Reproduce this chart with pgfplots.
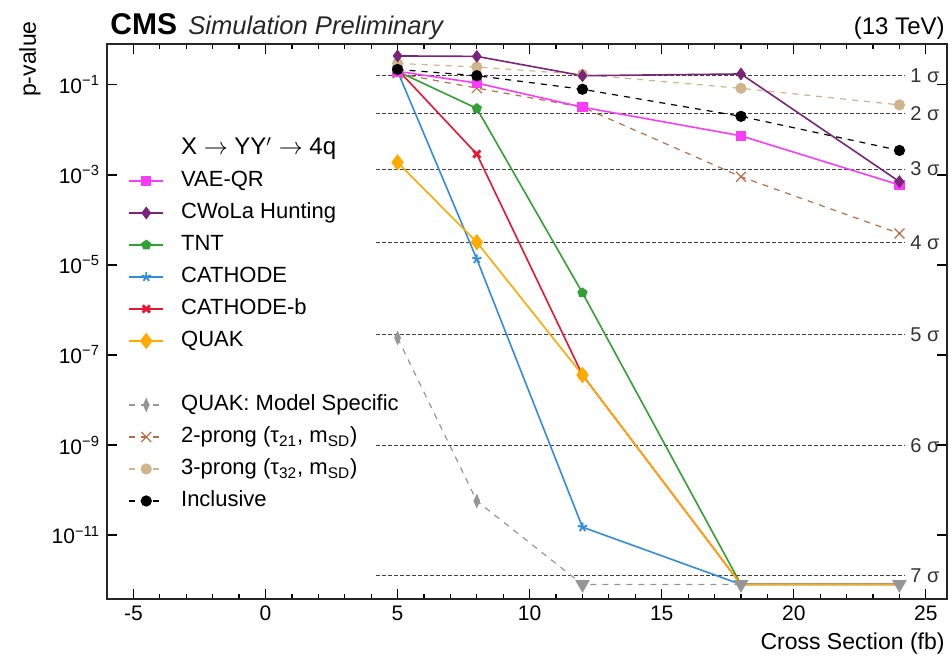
\documentclass[border=0pt]{standalone}
\usepackage{pgfplots}
\pgfplotsset{compat=1.18}
\usepackage{fontspec}
\setmainfont{Liberation Sans}
\definecolor{cmag}{RGB}{250,60,250}
\definecolor{cpur}{RGB}{122,36,122}
\definecolor{cgrn}{RGB}{50,160,50}
\definecolor{cblu}{RGB}{50,140,220}
\definecolor{cred}{RGB}{232,20,50}
\definecolor{corg}{RGB}{255,170,0}
\definecolor{cgry}{RGB}{150,150,150}
\definecolor{cbrn}{RGB}{185,110,70}
\definecolor{ctan}{RGB}{210,180,140}
\tikzset{
  sig/.style={black!75, line width=0.5pt, dash pattern=on 2pt off 1pt},
  siglab/.style={anchor=west, inner sep=0pt, font=\fontsize{10}{12}\selectfont, black!80},
}
\begin{document}
\begin{tikzpicture}
\useasboundingbox (-53.5pt,-29.5pt) rectangle (421pt,299.5pt);
\begin{axis}[
  scale only axis, width=420pt, height=277.5pt,
  xmin=-6, xmax=25.8, ymode=log, ymin=3.8e-13, ymax=0.81,
  xtick={-5,0,5,10,15,20,25}, minor x tick num=4,
  ytick={1e-1,1e-3,1e-5,1e-7,1e-9,1e-11},
  yticklabels={10\textsuperscript{−1},10\textsuperscript{−3},10\textsuperscript{−5},10\textsuperscript{−7},10\textsuperscript{−9},10\textsuperscript{−11}},
  yminorticks=false,
  tick align=inside, major tick length=5pt, minor tick length=2.5pt,
  axis line style={line width=0.9pt, black!85},
  every tick/.style={black, line width=0.6pt},
  tick label style={font=\fontsize{10.5}{12}\selectfont},
  /pgf/number format/assume math mode=true,
  legend cell align=left,
  legend style={at={(rel axis cs:0.025,0.835)}, anchor=north west, draw=none, fill=none,
    font=\fontsize{11}{13}\selectfont, row sep=3pt, inner sep=0pt,
    nodes={inner sep=1pt, text height=8.5pt, text depth=2.5pt},
    /tikz/every odd column/.append style={column sep=7.5pt}},
]
% legend entries
\addlegendimage{empty legend}\addlegendentry{\fontsize{12}{13}\selectfont X $\rightarrow$ YY$'$ $\rightarrow$ 4q}
\addlegendimage{cmag, line width=0.8pt, mark=square*, mark size=2.2pt}\addlegendentry{VAE-QR}
\addlegendimage{cpur, line width=0.8pt, mark=diamond*, mark size=2.6pt}\addlegendentry{CWoLa Hunting}
\addlegendimage{cgrn, line width=0.8pt, mark=pentagon*, mark size=2.2pt}\addlegendentry{TNT}
\addlegendimage{cblu, line width=0.8pt, mark=star, mark size=2.4pt, mark options={line width=0.9pt}}\addlegendentry{CATHODE}
\addlegendimage{cred, line width=0.8pt, mark=x, mark size=2.5pt, mark options={line width=1.4pt}}\addlegendentry{CATHODE-b}
\addlegendimage{corg, line width=0.8pt, mark=diamond*, mark size=3.5pt}\addlegendentry{QUAK}
\addlegendimage{empty legend}\addlegendentry{\strut}
\addlegendimage{cgry, line width=0.6pt, dashed, mark=diamond*, mark size=3pt, mark options={solid, xscale=0.6}}\addlegendentry{QUAK: Model Specific}
\addlegendimage{cbrn, line width=0.6pt, dashed, mark=x, mark size=3.5pt, mark options={solid}}\addlegendentry{2-prong (τ\textsubscript{21}, m\textsubscript{SD})}
\addlegendimage{ctan, line width=0.6pt, dashed, mark=*, mark size=2.5pt, mark options={solid}}\addlegendentry{3-prong (τ\textsubscript{32}, m\textsubscript{SD})}
\addlegendimage{black, line width=0.6pt, dashed, mark=*, mark size=2.5pt, mark options={solid}}\addlegendentry{Inclusive}

% significance lines
\addplot[forget plot, sig] coordinates {(4.2,0.1587) (24.2,0.1587)};
\addplot[forget plot, sig] coordinates {(4.2,0.02275) (24.2,0.02275)};
\addplot[forget plot, sig] coordinates {(4.2,1.35e-3) (24.2,1.35e-3)};
\addplot[forget plot, sig] coordinates {(4.2,3.167e-5) (24.2,3.167e-5)};
\addplot[forget plot, sig] coordinates {(4.2,2.867e-7) (24.2,2.867e-7)};
\addplot[forget plot, sig] coordinates {(4.2,9.866e-10) (24.2,9.866e-10)};
\addplot[forget plot, sig] coordinates {(4.2,1.28e-12) (24.2,1.28e-12)};
\node[siglab] at (axis cs:24.4,0.1587) {1 σ};
\node[siglab] at (axis cs:24.4,0.02275) {2 σ};
\node[siglab] at (axis cs:24.4,1.35e-3) {3 σ};
\node[siglab] at (axis cs:24.4,3.167e-5) {4 σ};
\node[siglab] at (axis cs:24.4,2.867e-7) {5 σ};
\node[siglab] at (axis cs:24.4,9.866e-10) {6 σ};
\node[siglab] at (axis cs:24.4,1.28e-12) {7 σ};

% QUAK: Model Specific
\addplot[forget plot, cgry, line width=0.6pt, dashed, mark=diamond*, mark size=3pt, mark options={solid, xscale=0.6}, mark indices={1,2}]
  coordinates {(5,2.4e-7) (8,5.7e-11) (12,8e-13) (18,8e-13) (24,8e-13)};
% 2-prong
\addplot[forget plot, cbrn, line width=0.6pt, dashed, mark=x, mark size=3.5pt, mark options={solid}]
  coordinates {(5,0.18) (8,0.085) (12,0.032) (18,9.1e-4) (24,5e-5)};
% 3-prong
\addplot[forget plot, ctan, line width=0.6pt, dashed, mark=*, mark size=2.5pt, mark options={solid}]
  coordinates {(5,0.30) (8,0.25) (12,0.17) (18,0.084) (24,0.036)};
% TNT
\addplot[forget plot, cgrn, line width=0.8pt, mark=pentagon*, mark size=2.2pt, mark indices={1,2,3}]
  coordinates {(5,0.20) (8,0.030) (12,2.4e-6) (18,8e-13) (24,8e-13)};
% CATHODE
\addplot[forget plot, cblu, line width=0.8pt, mark=star, mark size=2.4pt, mark options={line width=0.9pt}, mark indices={1,2,3}]
  coordinates {(5,0.20) (8,1.35e-5) (12,1.5e-11) (18,8e-13) (24,8e-13)};
% CATHODE-b
\addplot[forget plot, cred, line width=0.8pt, mark=x, mark size=2.5pt, mark options={line width=1.4pt}, mark indices={1,2,3}]
  coordinates {(5,0.22) (8,2.9e-3) (12,3.6e-8) (18,8e-13) (24,8e-13)};
% QUAK
\addplot[forget plot, corg, line width=0.8pt, mark=diamond*, mark size=3.5pt, mark indices={1,2,3}]
  coordinates {(5,1.9e-3) (8,3.2e-5) (12,3.6e-8) (18,8e-13) (24,8e-13)};
% VAE-QR
\addplot[forget plot, cmag, line width=0.8pt, mark=square*, mark size=2.2pt]
  coordinates {(5,0.20) (8,0.11) (12,0.032) (18,7.4e-3) (24,6e-4)};
% CWoLa
\addplot[forget plot, cpur, line width=0.8pt, mark=diamond*, mark size=2.6pt]
  coordinates {(5,0.44) (8,0.43) (12,0.16) (18,0.175) (24,7.1e-4)};
% Inclusive
\addplot[forget plot, black, line width=0.6pt, dashed, mark=*, mark size=2.5pt, mark options={solid}]
  coordinates {(5,0.22) (8,0.16) (12,0.08) (18,0.02) (24,3.5e-3)};
% upper-limit triangles (QUAK: Model Specific)
\addplot[forget plot, only marks, cgry, mark=triangle*, mark size=3.8pt, mark options={rotate=180}]
  coordinates {(12,8e-13) (18,8e-13) (24,8e-13)};
\end{axis}
\node[anchor=base west, inner sep=0pt, font=\bfseries\fontsize{15}{16}\selectfont] at (1.5pt,282pt) {CMS};
\node[anchor=base west, inner sep=0pt, font=\itshape\fontsize{12.8}{14}\selectfont, black!85] at (40.5pt,282pt) {Simulation Preliminary};
\node[anchor=base east, inner sep=0pt, font=\fontsize{12}{14}\selectfont] at (419pt,282pt) {(13 TeV)};
\node[anchor=base east, inner sep=0pt, font=\fontsize{11.5}{13}\selectfont] at (419pt,-25.5pt) {Cross Section (fb)};
\node[rotate=90, anchor=east, inner sep=0pt, font=\fontsize{11.5}{13}\selectfont] at (-38.5pt,289pt) {p-value};
\end{tikzpicture}
\end{document}
